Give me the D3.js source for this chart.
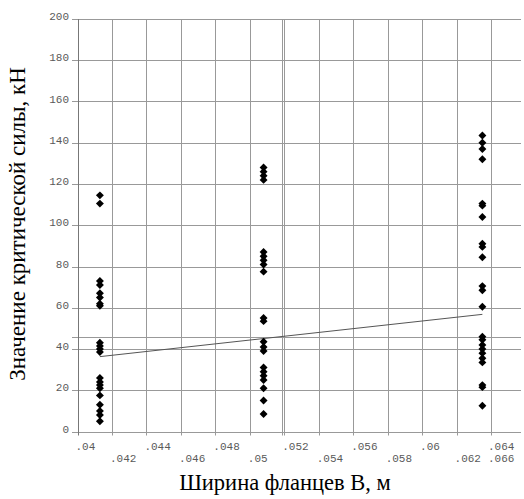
<!DOCTYPE html>
<html>
<head>
<meta charset="utf-8">
<script src="https://cdn.jsdelivr.net/npm/d3@7"></script>
<style>
  body { margin: 0; background: #fff; }
  svg { display: block; }
  .tick-label { font-family: "Liberation Mono", "DejaVu Sans Mono", monospace; font-size: 11px; fill: #5a5a5a; }
  .title { font-family: "Liberation Serif", "Times New Roman", serif; font-size: 22.5px; fill: #000; }
</style>
</head>
<body>
<div id="chart"></div>
<script>
// Данные: ширина фланцев (м) и значения критической силы (кН)
const widths = [0.0413, 0.0508, 0.0635];
const forces1 = [114.5, 110.5, 73, 71, 67, 65, 62, 61, 43, 41.5, 40, 38.5, 26, 24, 22.5, 21, 17.5, 13, 10, 8, 5];
const forces2 = [128, 126, 124, 122, 87, 85, 83, 81, 77.5, 55, 53.5, 43.5, 41, 39, 31, 29, 27, 25, 21, 15, 8.5];
const forces3 = [143.5, 140, 137, 132, 110.5, 109.5, 104, 91, 89.5, 84.5, 70.5, 68.5, 60.5, 46, 44.5, 42, 40, 38, 35.5, 33.5, 22.5, 21.5, 12.5];

// Линия тренда и средние значения
const trendX = [0.0413, 0.0635];
const trendY = [36.3, 56.8];
const meanX = 0.05185;
const meanY = 46;

// Подписи осей
const xTicks = [0.04, 0.042, 0.044, 0.046, 0.048, 0.05, 0.052, 0.054, 0.056, 0.058, 0.06, 0.062, 0.064, 0.066];
const xTickLabels = ['.04', '.042', '.044', '.046', '.048', '.05', '.052', '.054', '.056', '.058', '.06', '.062', '.064', '.066'];
const yTicks = [0, 20, 40, 60, 80, 100, 120, 140, 160, 180, 200];

const width = 524;
const height = 499;
const plotLeft = 77, plotTop = 19, plotBottom = 431.5, plotRight = 521;

let svg = d3.select('#chart')
            .append('svg')
            .attr('width', width)
            .attr('height', height);

let xScale = d3.scaleLinear()
              .domain([0.04, 0.064])
              .range([plotLeft + 0.5, 491]);

let yScale = d3.scaleLinear()
              .domain([0, 200])
              .range([plotBottom, plotTop]);

// Сетка: вертикальные линии
svg.append('g')
  .selectAll('line')
  .data(xTicks.filter(t => t > 0.041 && t < 0.065).concat([meanX]))
  .enter()
  .append('line')
  .attr('x1', d => Math.round(xScale(d)) + 0.5)
  .attr('x2', d => Math.round(xScale(d)) + 0.5)
  .attr('y1', plotTop)
  .attr('y2', plotBottom + 4)
  .attr('stroke', '#999')
  .attr('stroke-width', 1);

// Сетка: горизонтальные линии
svg.append('g')
  .selectAll('line')
  .data(yTicks.concat([meanY]))
  .enter()
  .append('line')
  .attr('x1', plotLeft - 5)
  .attr('x2', plotRight)
  .attr('y1', d => Math.round(yScale(d)) + 0.5)
  .attr('y2', d => Math.round(yScale(d)) + 0.5)
  .attr('stroke', '#999')
  .attr('stroke-width', 1);

// Ось Y
svg.append('line')
  .attr('x1', Math.round(xScale(0.04)) + 0.5)
  .attr('x2', Math.round(xScale(0.04)) + 0.5)
  .attr('y1', plotTop)
  .attr('y2', plotBottom + 4)
  .attr('stroke', '#777');

// Подписи Y
svg.append('g')
  .selectAll('text')
  .data(yTicks)
  .enter()
  .append('text')
  .attr('class', 'tick-label')
  .attr('x', 69)
  .attr('y', d => yScale(d) + 1)
  .attr('text-anchor', 'end')
  .text(d => d);

// Подписи X в два ряда
svg.append('g')
  .selectAll('text')
  .data(xTicks)
  .enter()
  .append('text')
  .attr('class', 'tick-label')
  .attr('x', d => Math.min(xScale(d) - 2, 488))
  .attr('y', (d, i) => i % 2 === 0 ? 450 : 462)
  .text((d, i) => xTickLabels[i]);

// Линия тренда
let line = d3.line()
            .x(d => xScale(d[0]))
            .y(d => yScale(d[1]));

svg.append('path')
  .datum(trendX.map((x, i) => [x, trendY[i]]))
  .attr('fill', 'none')
  .attr('stroke', '#555')
  .attr('stroke-width', 1)
  .attr('d', line);

// Точки
let points = [];
[forces1, forces2, forces3].forEach((arr, i) => {
  arr.forEach(v => points.push([widths[i], v]));
});

svg.append('g')
  .selectAll('path')
  .data(points)
  .enter()
  .append('path')
  .attr('d', d3.symbol().type(d3.symbolDiamond2).size(40))
  .attr('transform', d => `translate(${xScale(d[0])},${yScale(d[1])})`)
  .attr('fill', '#000');

// Заголовки осей
svg.append('text')
  .attr('class', 'title')
  .attr('x', 285)
  .attr('y', 490)
  .attr('text-anchor', 'middle')
  .text('Ширина фланцев B, м');

svg.append('text')
  .attr('class', 'title')
  .style('font-size', '23px')
  .attr('transform', 'translate(25, 224) rotate(-90)')
  .attr('text-anchor', 'middle')
  .text('Значение критической силы, кН');
</script>
</body>
</html>
